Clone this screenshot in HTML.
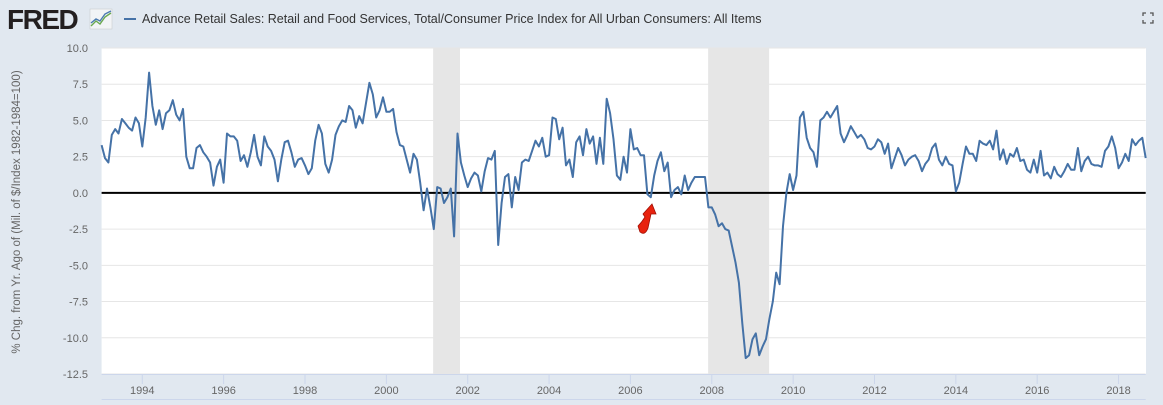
<!DOCTYPE html>
<html><head><meta charset="utf-8"><style>
body{margin:0;background:#e1e8f0;font-family:"Liberation Sans",sans-serif;}
svg{display:block}
</style></head><body>
<svg id="chart" width="1163" height="405">
  <rect x="0" y="0" width="1163" height="405" fill="#e1e8f0"/>
  <text x="7" y="29" font-size="28" font-weight="bold" fill="#231f20" font-family="Liberation Sans" letter-spacing="-1.5">FRED</text>
  <g>
    <rect x="90" y="9" width="22" height="20" fill="#f2f4f6" stroke="#c8ccd0" stroke-width="0.6"/>
    <polyline points="91,26 96,21 100,24 105,17 111,13" fill="none" stroke="#6aa84f" stroke-width="1.4"/>
    <polyline points="91,23 96,19 100,21 105,14 111,11" fill="none" stroke="#4a7ab0" stroke-width="1.4"/>
  </g>
  <line x1="124" y1="19" x2="136" y2="19" stroke="#4572a7" stroke-width="2"/>
  <text x="142" y="23" font-size="12.5" fill="#333">Advance Retail Sales: Retail and Food Services, Total/Consumer Price Index for All Urban Consumers: All Items</text>
  <g stroke="#555" stroke-width="1.3" fill="none">
    <path d="M1143,16 v-3 h3 M1150,13 h3 v3 M1153,20 v3 h-3 M1146,23 h-3 v-3"/>
  </g>
  <text transform="translate(20,212) rotate(-90)" text-anchor="middle" font-size="11.5" fill="#666">% Chg. from Yr. Ago of (Mil. of $/Index 1982-1984=100)</text>
  <rect x="101.6" y="48" width="1044.4" height="326" fill="#fff"/>
  <g id="grid"></g>
  <g id="rec"></g>
  <g id="yt"></g>
  <g id="xt"></g>
  <g id="series"></g>
  <g>
    <path d="M643,214 L652,204 L656,214 L651,214 L648,228 Q645,236 640,232 L638,226 Q642,222 645,217 Z" fill="#e8220e" stroke="#a01005" stroke-width="0.8"/>
  </g>
</svg>
<script>
const yTicks=[10,7.5,5,2.5,0,-2.5,-5,-7.5,-10,-12.5];
const yLabels=["10.0","7.5","5.0","2.5","0.0","-2.5","-5.0","-7.5","-10.0","-12.5"];
const xTicks=[1994,1996,1998,2000,2002,2004,2006,2008,2010,2012,2014,2016,2018];
const recessions=[[2001.15,2001.81],[2007.91,2009.41]];
const startYear=1993.0;
const values=[
3.3,2.4,2.1,4.0,4.4,4.1,5.1,4.8,4.5,4.3,5.2,4.8,3.2,5.2,8.3,6.0,4.7,5.7,4.4,5.5,5.7,6.4,5.4,5.0,5.8,2.5,1.7,1.7,3.1,3.3,2.8,2.5,2.1,0.5,1.8,2.3,0.7,4.1,3.9,3.9,3.6,2.2,2.6,1.8,2.8,4.0,2.5,1.9,3.9,3.2,2.9,2.3,0.8,2.3,3.5,3.6,2.8,1.8,2.3,2.4,1.9,1.3,1.7,3.6,4.7,4.1,2.0,1.4,
2.3,4.0,4.6,5.0,4.9,6.0,5.7,4.5,5.3,4.8,6.2,7.6,6.8,5.2,5.7,6.6,5.6,5.6,5.8,4.2,3.3,3.2,2.3,1.4,2.7,2.3,0.7,-1.2,0.3,-1.0,-2.5,0.4,0.3,-0.7,-0.3,0.3,-3.0,4.1,2.1,1.2,0.4,1.0,1.4,1.2,0.1,1.5,2.4,2.3,2.9,-3.6,-0.7,1.1,1.3,-1.0,1.1,0.2,2.1,2.3,2.2,2.9,3.6,3.2,3.8,2.5,2.6,5.2,5.1,3.7,
4.5,1.9,2.3,1.1,3.5,3.9,2.6,4.4,3.4,3.9,2.0,3.8,2.0,6.5,5.5,3.7,1.2,0.9,2.5,1.4,4.4,3.0,3.1,2.6,2.6,-0.1,-0.3,1.2,2.2,2.8,1.5,2.1,-0.3,0.2,0.4,-0.1,1.2,0.2,0.7,1.1,1.1,1.1,1.1,-1.0,-1.0,-1.5,-2.3,-2.1,-2.5,-2.6,-3.7,-4.8,-6.2,-9.0,-11.4,-11.2,-10.1,-9.7,-11.2,-10.6,-10.1,-8.7,-7.5,-5.5,-6.3,-2.3,0.0,1.3,
0.2,1.2,5.2,5.6,3.8,3.1,2.8,1.8,5.0,5.2,5.6,5.2,5.6,6.0,4.1,3.5,4.0,4.6,4.2,3.8,4.0,3.7,3.1,3.0,3.2,3.7,3.5,2.7,3.4,1.7,2.4,3.1,2.6,1.9,2.3,2.5,2.6,2.2,1.5,2.0,2.3,3.1,3.4,2.3,1.9,2.5,2.0,1.9,0.1,0.7,2.0,3.2,2.7,
2.7,2.2,3.6,3.4,3.3,3.6,3.0,4.3,2.3,3.0,2.0,2.7,2.5,3.1,2.2,2.3,1.6,1.4,2.3,1.4,2.9,1.2,1.4,1.0,1.8,1.3,1.1,1.5,2.0,1.6,1.6,3.1,1.5,2.2,2.5,2.0,1.9,1.9,1.8,2.9,3.2,3.9,3.1,1.7,2.1,2.7,2.2,3.7,3.3,3.6,3.8,2.4
];
const L=101.6,R=1145.7,T=48,B=374;
const x0=1993.0,x1=2018.667;
const X=v=>L+(v-x0)/(x1-x0)*(R-L);
const Y=v=>T+(10-v)/22.5*(B-T);
const NS="http://www.w3.org/2000/svg";
function mk(tag,attrs,parent){const e=document.createElementNS(NS,tag);for(const k in attrs)e.setAttribute(k,attrs[k]);document.getElementById(parent).appendChild(e);return e;}
recessions.forEach(r=>{
  const e=mk('rect',{x:X(r[0]),y:T,width:X(r[1])-X(r[0]),height:B-T,fill:'#e6e6e6'},'rec');
  
  
});
yTicks.forEach((t,i)=>{
  const g=mk('line',{x1:L,x2:R,y1:Y(t),y2:Y(t),stroke:t===0?'#000':'#e6e6e6','stroke-width':t===0?2:1},t===0?'series':'grid');
  
  
  const tx=mk('text',{x:88,y:Y(t)+4,'text-anchor':'end','font-size':11,fill:'#666'},'yt');
  tx.textContent=yLabels[i];
  
  
});
const ax=mk('line',{x1:L,x2:R,y1:B+0.5,y2:B+0.5,stroke:'#ccd6eb','stroke-width':1},'xt');


const ax2=mk('line',{x1:L,x2:R,y1:399.5,y2:399.5,stroke:'#ccd6eb','stroke-width':1},'xt');


xTicks.forEach(t=>{
  const tk=mk('line',{x1:X(t),x2:X(t),y1:B,y2:B+10,stroke:'#ccd6eb'},'xt');
  
  
  const tx=mk('text',{x:X(t),y:394,'text-anchor':'middle','font-size':11,fill:'#666'},'xt');
  tx.textContent=String(t);
  
  
});
const pts=values.map((v,i)=>X(startYear+i/12).toFixed(1)+','+Y(v).toFixed(1)).join(' ');
const pl=mk('polyline',{points:pts,fill:'none',stroke:'#4572a7','stroke-width':2,'stroke-linejoin':'round'},'series');


</script>
</body></html>
